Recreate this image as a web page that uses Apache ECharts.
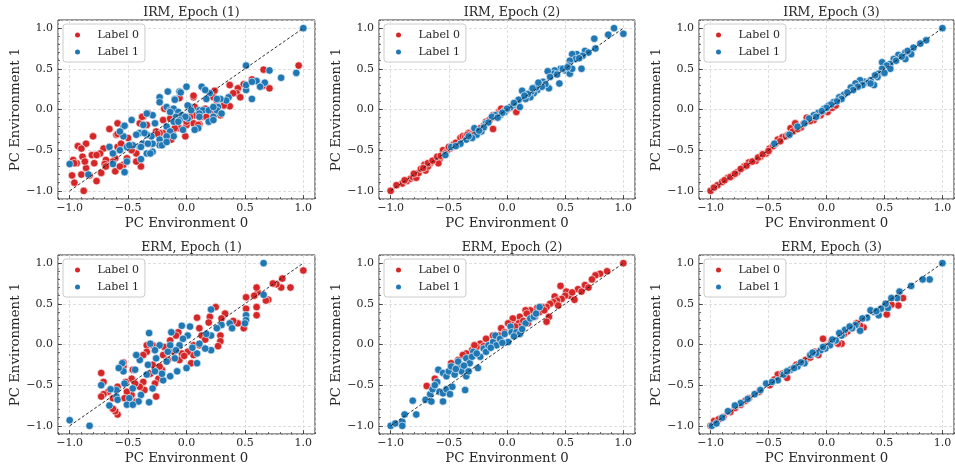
<!DOCTYPE html>
<html>
<head>
<meta charset="utf-8">
<script src="https://cdn.jsdelivr.net/npm/echarts@6/dist/echarts.min.js"></script>
<style>
html,body{margin:0;padding:0;background:#fff;}
#chart{width:955px;height:467px;}
</style>
</head>
<body>
<div id="chart"></div>
<script>
// ---------- data ----------
const panelTitles = ['IRM, Epoch (1)', 'IRM, Epoch (2)', 'IRM, Epoch (3)', 'ERM, Epoch (1)', 'ERM, Epoch (2)', 'ERM, Epoch (3)'];
const seriesNames = ['Label 0', 'Label 1'];
const xAxisName = 'PC Environment 0';
const yAxisName = 'PC Environment 1';
const axisRange = [-1.1, 1.1];
const diagX = [-1, 1];
const diagY = [-1, 1];

const irm1Label0 = [[0.96,0.54],[0.66,0.49],[0.71,0.26],[0.65,0.29],[0.56,0.37],[0.49,0.31],[0.44,0.26],[0.43,0.2],[0.46,0.15],[0.37,0.3],[0.37,0.04],[0.24,0.23],[0.23,0.15],[0.29,-0.07],[0.23,-0.05],[0.16,0.01],[0.11,-0.18],[0.14,-0.09],[0.06,0.15],[0.06,-0.17],[0.07,-0.07],[-0.06,0.14],[-0.01,-0.33],[-0.06,-0.23],[0,-0.19],[-0.13,-0.37],[-0.11,-0.25],[-0.19,0.01],[-0.2,-0.13],[-0.2,-0.29],[-0.26,-0.27],[-0.34,-0.19],[-0.37,-0.09],[-0.33,-0.05],[-0.4,-0.17],[-0.43,-0.54],[-0.39,-0.7],[-0.43,-0.64],[-0.51,-0.6],[-0.54,-0.68],[-0.59,-0.17],[-0.6,-0.31],[-0.59,-0.46],[-0.61,-0.6],[-0.63,-0.64],[-0.61,-0.76],[-0.66,-0.24],[-0.66,-0.46],[-0.69,-0.62],[-0.7,-0.67],[-0.69,-0.7],[-0.71,-0.48],[-0.74,-0.54],[-0.77,-0.88],[-0.79,-0.66],[-0.8,-0.33],[-0.81,-0.56],[-0.83,-0.81],[-0.86,-0.42],[-0.86,-0.72],[-0.89,-0.58],[-0.88,-1.0],[-0.94,-0.66],[-0.93,-0.45],[-0.97,-0.62],[-0.96,-0.9],[-0.98,-0.81],[-0.9,-0.8],[-0.73,-0.78],[-0.9,-0.48],[-0.59,-0.3],[-0.56,-0.42],[-0.47,-0.5],[-0.38,-0.09],[-0.23,-0.29],[-0.14,-0.11],[-0.1,-0.23],[0.03,-0.09],[0.06,0.17],[0.07,0.03],[0.1,-0.19],[0.17,-0.09],[0.26,0.11],[-0.96,-0.66],[-0.87,-0.64],[-0.77,-0.56],[-0.57,-0.7],[-0.5,-0.35],[-0.3,-0.42],[-0.25,-0.3],[0.0,-0.15],[0.32,0.05],[0.4,0.2]];
const irm1Label1 = [[1,1],[0.94,0.45],[0.81,0.39],[0.71,0.48],[0.67,0.33],[0.6,0.35],[0.56,0.13],[0.51,0.54],[0.51,0.24],[0.51,0.3],[0.56,0.34],[0.63,0.28],[0.36,0.15],[0.34,0.11],[0.29,0.13],[0.27,0.03],[0.26,-0.01],[0.3,-0.05],[0.2,0.2],[0.17,0.13],[0.13,0.28],[0.11,-0.01],[0.14,-0.01],[0.19,-0.15],[0.23,-0.09],[0.1,-0.23],[0.07,-0.25],[0.01,-0.11],[0.03,0.03],[0,0.28],[-0.06,0.22],[-0.1,0.13],[-0.16,0.22],[-0.23,0.15],[-0.23,0.09],[-0.17,0.03],[-0.14,-0.01],[-0.11,0.01],[-0.07,-0.03],[-0.09,-0.09],[-0.04,-0.07],[-0.01,-0.09],[-0.06,-0.13],[-0.11,-0.15],[-0.17,-0.21],[-0.14,-0.27],[-0.11,-0.33],[-0.17,-0.33],[-0.23,-0.37],[-0.23,-0.44],[-0.29,-0.42],[-0.3,-0.33],[-0.29,-0.07],[-0.37,-0.19],[-0.4,-0.29],[-0.43,-0.31],[-0.34,-0.31],[-0.37,-0.42],[-0.4,-0.46],[-0.46,-0.44],[-0.51,-0.46],[-0.47,-0.13],[-0.54,-0.21],[-0.54,-0.33],[-0.57,-0.5],[-0.51,-0.64],[-0.53,-0.77],[-0.39,-0.61],[-0.34,-0.54],[-0.29,-0.52],[-0.63,-0.67],[-0.84,-0.8],[-1.0,-0.67],[0.11,-0.05],[-0.66,-0.46],[-0.63,-0.54],[-0.57,-0.27],[-0.53,-0.2],[-0.49,-0.44],[-0.39,-0.46],[-0.36,-0.29],[-0.34,-0.05],[-0.33,-0.42],[-0.31,-0.54],[-0.27,-0.17],[-0.21,-0.44],[-0.17,-0.4],[-0.14,-0.03],[-0.1,0.12],[-0.07,-0.15],[-0.03,-0.25],[0.01,0.05],[0.04,-0.01],[0.11,-0.09],[0.16,0.24],[0.19,-0.01],[0.23,0.03],[0.23,-0.13],[0.26,0.13],[-0.05,0.21]];

const irm2Label0 = [[-1,-1],[-0.9,-0.91],[-0.86,-0.88],[-0.83,-0.85],[-0.81,-0.83],[-0.78,-0.84],[-0.76,-0.78],[-0.71,-0.68],[-0.7,-0.75],[-0.66,-0.66],[-0.62,-0.62],[-0.58,-0.61],[-0.55,-0.5],[-0.59,-0.66],[-0.49,-0.48],[-0.43,-0.44],[-0.4,-0.35],[-0.38,-0.33],[-0.33,-0.29],[-0.26,-0.27],[-0.2,-0.2],[-0.18,-0.15],[-0.12,-0.24],[-0.12,-0.07],[-0.07,-0.03],[-0.05,0.01],[-0.02,-0.01],[0.08,-0.03],[0.1,0.04],[-0.68,-0.7],[-0.52,-0.52],[-0.95,-0.93],[-0.88,-0.87],[-0.74,-0.73],[-0.68,-0.66],[-0.64,-0.63],[-0.6,-0.58],[-0.57,-0.57],[-0.53,-0.54],[-0.46,-0.43],[-0.44,-0.41],[-0.36,-0.34],[-0.3,-0.3],[-0.28,-0.25],[-0.23,-0.23],[-0.15,-0.13],[-0.1,-0.09],[-0.08,-0.06],[0.0,0.0],[0.03,0.02],[-0.72,-0.72],[-0.8,-0.79],[-0.5,-0.46],[-0.34,-0.31]];
const irm2Label1 = [[1,0.93],[0.92,1],[0.87,0.92],[0.75,0.87],[0.76,0.75],[0.67,0.72],[0.6,0.68],[0.56,0.68],[0.59,0.62],[0.54,0.6],[0.53,0.54],[0.5,0.48],[0.46,0.5],[0.41,0.48],[0.4,0.44],[0.35,0.47],[0.37,0.4],[0.54,0.44],[0.56,0.5],[0.64,0.5],[0.45,0.32],[0.36,0.26],[0.31,0.34],[0.28,0.3],[0.26,0.24],[0.23,0.2],[0.2,0.15],[0.13,0.23],[0.16,0.13],[0.08,0.09],[0.11,0.03],[0.05,0.05],[0.03,0.03],[-0.02,-0.03],[-0.06,-0.07],[-0.1,-0.07],[-0.13,-0.09],[-0.18,-0.17],[-0.22,-0.27],[-0.28,-0.23],[-0.26,-0.31],[-0.3,-0.35],[-0.35,-0.37],[-0.4,-0.42],[-0.48,-0.46],[-0.53,-0.56],[0.7,0.7],[0.65,0.66],[0.48,0.5],[0.43,0.43],[0.33,0.31],[0.3,0.28],[0.25,0.27],[0.21,0.22],[0.18,0.19],[0.1,0.12],[0.06,0.08],[0.0,0.01],[-0.04,-0.04],[-0.08,-0.1],[-0.16,-0.16],[-0.2,-0.22],[-0.24,-0.26],[-0.33,-0.33],[-0.44,-0.45],[0.27,0.33],[0.22,0.26],[0.15,0.17],[0.52,0.52],[0.62,0.63]];

const irm3Label0 = [[-1,-1],[-0.94,-0.93],[-0.9,-0.89],[-0.85,-0.84],[-0.81,-0.81],[-0.77,-0.77],[-0.71,-0.7],[-0.67,-0.65],[-0.61,-0.63],[-0.57,-0.58],[-0.52,-0.54],[-0.49,-0.48],[-0.42,-0.37],[-0.38,-0.34],[-0.31,-0.23],[-0.27,-0.17],[-0.22,-0.22],[-0.17,-0.1],[-0.11,-0.13],[-0.05,-0.07],[0.01,-0.03],[0.01,0.02],[-0.97,-0.96],[-0.88,-0.87],[-0.83,-0.83],[-0.79,-0.79],[-0.74,-0.73],[-0.69,-0.69],[-0.64,-0.64],[-0.59,-0.59],[-0.55,-0.55],[-0.46,-0.45],[-0.44,-0.42],[-0.35,-0.33],[-0.33,-0.31],[-0.29,-0.27],[-0.25,-0.24],[-0.2,-0.18],[-0.14,-0.14],[-0.08,-0.08],[-0.03,-0.02],[0.05,0.02],[0.08,0.05],[-0.4,-0.39],[-0.5,-0.51]];
const irm3Label1 = [[1,1],[0.86,0.85],[0.81,0.81],[0.75,0.76],[0.73,0.68],[0.68,0.7],[0.62,0.67],[0.68,0.62],[0.58,0.62],[0.55,0.56],[0.48,0.58],[0.52,0.54],[0.55,0.5],[0.48,0.5],[0.45,0.44],[0.41,0.3],[0.38,0.36],[0.33,0.34],[0.29,0.36],[0.25,0.32],[0.21,0.27],[0.15,0.18],[0.11,0.15],[0.06,0.09],[0.02,0.05],[-0.02,0.01],[-0.07,-0.04],[-0.11,-0.07],[-0.15,-0.11],[-0.19,-0.17],[-0.25,-0.21],[-0.32,-0.31],[-0.45,-0.42],[0.44,0.4],[0.42,0.42],[0.36,0.33],[0.31,0.3],[0.27,0.28],[0.23,0.24],[0.18,0.21],[0.13,0.13],[0.09,0.1],[0.04,0.06],[0.0,0.02],[-0.04,-0.02],[-0.09,-0.09],[0.38,0.32],[0.5,0.45],[0.6,0.6],[0.65,0.65],[0.7,0.72]];

const erm1Label0 = [[1.0,0.91],[0.89,0.7],[0.82,0.81],[0.81,0.7],[0.77,0.74],[0.74,0.75],[0.7,0.55],[0.68,0.54],[0.61,0.64],[0.6,0.7],[0.58,0.6],[0.6,0.46],[0.6,0.36],[0.51,0.58],[0.51,0.44],[0.49,0.2],[0.44,0.26],[0.4,0.29],[0.33,0.38],[0.3,0.32],[0.29,0.11],[0.29,0.04],[0.27,-0.02],[0.25,0.46],[0.2,0.34],[0.19,0.27],[0.11,0.2],[0.09,0.33],[0.13,0.11],[0.11,-0.01],[0.06,-0.01],[0.06,-0.13],[0.04,-0.23],[0.01,-0.09],[-0.07,0.15],[-0.09,0.11],[-0.04,-0.11],[-0.06,-0.19],[-0.11,-0.09],[-0.14,0.05],[-0.19,-0.03],[-0.2,-0.13],[-0.21,-0.31],[-0.23,-0.27],[-0.24,-0.42],[-0.29,-0.25],[-0.29,-0.01],[-0.27,-0.48],[-0.26,-0.64],[-0.34,-0.01],[-0.34,-0.09],[-0.37,-0.13],[-0.37,-0.46],[-0.36,-0.56],[-0.4,-0.52],[-0.46,-0.31],[-0.47,-0.42],[-0.47,-0.62],[-0.43,-0.7],[-0.51,-0.58],[-0.53,-0.66],[-0.54,-0.27],[-0.54,-0.22],[-0.59,-0.52],[-0.59,-0.86],[-0.61,-0.82],[-0.63,-0.79],[-0.63,-0.66],[-0.67,-0.58],[-0.71,-0.61],[-0.73,-0.64],[-0.73,-0.35],[-0.71,-0.46],[-0.52,-0.46],[-0.44,-0.48],[-0.16,-0.19],[-0.02,-0.14],[0.16,0.06],[-0.31,-0.36]];
const erm1Label1 = [[0.66,1.0],[0.66,0.61],[0.51,0.36],[0.51,0.3],[0.5,0.26],[0.37,0.26],[0.39,0.2],[0.3,0.24],[0.26,0.2],[0.21,0.11],[0.17,0.13],[0.21,0.43],[0.21,-0.07],[0.16,-0.05],[0.11,0.01],[0.09,-0.11],[0.09,-0.23],[0.03,0.22],[0.01,0.11],[-0.04,0.23],[-0.03,0.07],[-0.06,-0.01],[-0.09,-0.07],[-0.1,-0.17],[0,-0.29],[-0.13,0.15],[-0.14,-0.01],[-0.16,-0.09],[-0.17,-0.21],[-0.14,-0.39],[-0.2,-0.44],[-0.23,-0.01],[-0.27,-0.07],[-0.26,-0.17],[-0.27,-0.33],[-0.29,-0.54],[-0.31,0.01],[-0.32,0.14],[-0.33,-0.25],[-0.34,-0.37],[-0.32,-0.71],[-0.39,-0.62],[-0.4,-0.19],[-0.43,-0.13],[-0.44,-0.31],[-0.46,-0.54],[-0.41,-0.7],[-0.49,-0.66],[-0.51,-0.74],[-0.46,-0.74],[-0.53,-0.48],[-0.54,-0.33],[-0.55,-0.23],[-0.58,-0.29],[-0.6,-0.56],[-0.6,-0.64],[-0.65,-0.55],[-0.66,-0.75],[-0.73,-0.5],[-0.83,-1.0],[-1.0,-0.93],[-0.59,-0.68],[-0.08,-0.33],[0.05,-0.04],[-0.21,-0.36]];

const erm2Label0 = [[1,1],[0.86,0.9],[0.8,0.87],[0.76,0.85],[0.67,0.73],[0.61,0.68],[0.54,0.6],[0.51,0.65],[0.5,0.6],[0.46,0.72],[0.47,0.56],[0.41,0.59],[0.43,0.54],[0.4,0.52],[0.37,0.5],[0.36,0.34],[0.34,0.46],[0.3,0.46],[0.28,0.4],[0.26,0.45],[0.23,0.4],[0.2,0.42],[0.16,0.42],[0.17,0.38],[0.11,0.34],[0.1,0.26],[0.11,0.22],[0.05,0.32],[0.04,0.24],[0.01,0.26],[-0.05,0.2],[-0.02,0.15],[-0.07,0.11],[-0.12,0.11],[-0.18,0.07],[-0.23,0.01],[-0.26,-0.03],[-0.3,-0.07],[-0.35,-0.11],[-0.38,-0.13],[-0.48,-0.23],[-0.62,-0.42],[-0.69,-0.51],[0.34,0.28],[0.73,0.8],[0.64,0.65],[0.56,0.64],[0.44,0.48],[0.32,0.42],[0.24,0.34],[0.14,0.29],[0.07,0.22],[-0.1,0.04],[-0.2,-0.02],[-0.28,-0.01],[-0.33,-0.17],[-0.42,-0.19],[0.7,0.7],[0.58,0.55],[0.18,0.26]];
const erm2Label1 = [[-1,-1],[-0.96,-0.97],[-0.9,-0.95],[-0.9,-1.0],[-0.88,-0.86],[-0.78,-0.86],[-0.81,-0.69],[-0.7,-0.68],[-0.66,-0.61],[-0.64,-0.55],[-0.6,-0.46],[-0.65,-0.7],[-0.55,-0.7],[-0.58,-0.58],[-0.55,-0.6],[-0.52,-0.55],[-0.49,-0.61],[-0.47,-0.52],[-0.59,-0.31],[-0.55,-0.35],[-0.52,-0.39],[-0.5,-0.33],[-0.48,-0.27],[-0.43,-0.29],[-0.45,-0.37],[-0.4,-0.25],[-0.39,-0.33],[-0.35,-0.39],[-0.36,-0.56],[-0.35,-0.17],[-0.32,-0.23],[-0.29,-0.09],[-0.25,-0.29],[-0.23,-0.15],[-0.2,-0.05],[-0.18,-0.09],[-0.16,-0.01],[-0.12,0.03],[-0.1,0.11],[-0.09,-0.01],[-0.06,0.07],[-0.02,0.13],[0.01,0.03],[0.03,0.22],[0.04,0.15],[0.08,0.15],[0.11,0.13],[0.16,0.26],[0.2,0.32],[0.23,0.34],[0.25,0.38],[0.28,0.46],[-0.42,-0.21],[-0.37,-0.26],[-0.3,-0.15],[-0.26,-0.11],[-0.14,-0.04],[-0.04,0.02],[0.06,0.1],[0.13,0.19],[-0.62,-0.5],[-0.44,-0.3],[-0.33,-0.33]];

const erm3Label0 = [[0.66,0.57],[0.62,0.48],[0.56,0.49],[0.52,0.37],[0.51,0.5],[0.32,0.21],[0.29,0.23],[0.13,0.01],[0.1,0.01],[-0.03,0.07],[-0.07,-0.13],[-0.34,-0.41],[-0.42,-0.37],[-0.67,-0.66],[-0.89,-0.89],[-0.97,-0.94],[-1,-1],[-0.79,-0.78],[-0.7,-0.69],[-0.58,-0.58],[-0.49,-0.5],[-0.26,-0.25],[-0.18,-0.19],[-0.1,-0.09],[0.04,0.03],[0.18,0.16],[0.26,0.26],[-0.93,-0.92],[-0.83,-0.83],[-0.74,-0.74],[-0.62,-0.61],[-0.3,-0.3],[-0.14,-0.16],[0.0,-0.02],[0.07,0.04],[0.15,0.13],[0.22,0.2],[-0.45,-0.43],[-0.38,-0.36]];
const erm3Label1 = [[1,1],[0.89,0.8],[0.83,0.8],[0.73,0.72],[0.63,0.65],[0.61,0.57],[0.53,0.45],[0.51,0.5],[0.45,0.36],[0.41,0.4],[0.38,0.42],[0.35,0.33],[0.31,0.32],[0.29,0.17],[0.25,0.24],[0.22,0.2],[0.16,0.18],[0.13,0.11],[0.08,0.05],[0.03,-0.01],[-0.01,-0.05],[-0.05,-0.07],[-0.09,-0.11],[-0.14,-0.13],[-0.19,-0.23],[-0.25,-0.27],[-0.31,-0.31],[-0.37,-0.37],[-0.42,-0.44],[-0.52,-0.48],[-0.62,-0.61],[-0.74,-0.72],[-0.79,-0.75],[-0.85,-0.82],[-0.99,-1.0],[0.47,0.44],[0.43,0.41],[0.2,0.22],[0.11,0.14],[0.05,0.06],[-0.03,-0.03],[-0.12,-0.1],[-0.22,-0.22],[-0.28,-0.29],[-0.34,-0.33],[-0.47,-0.46],[-0.57,-0.56],[-0.68,-0.67],[-0.9,-0.9],[-0.95,-0.97],[0.56,0.57]];

const panelLabel0 = [irm1Label0, irm2Label0, irm3Label0, erm1Label0, erm2Label0, erm3Label0];
const panelLabel1 = [irm1Label1, irm2Label1, irm3Label1, erm1Label1, erm2Label1, erm3Label1];

// ---------- layout ----------
const colLeft = [58, 379, 699];
const colWidth = [257, 256, 255];
const rowTop = [20, 255];
const plotH = 179;
const FONT = '"DejaVu Serif", serif';
const RED = '#d62728', BLUE = '#1f77b4';
const TXT = '#262626';

const fmt = v => (v < 0 ? '\u2212' : '') + Math.abs(v).toFixed(1);

const grid = [], xAxis = [], yAxis = [], series = [], legend = [], title = [];
for (let i = 0; i < 6; i++) {
  const r = Math.floor(i / 3), c = i % 3;
  const left = colLeft[c], top = rowTop[r], w = colWidth[c];
  grid.push({left: left, top: top, width: w, height: plotH, show: true, borderColor: '#333333', borderWidth: 1, backgroundColor: 'transparent', containLabel: false});
  title.push({text: panelTitles[i], left: left + w / 2, top: top - 19, textAlign: 'center',
    textStyle: {fontFamily: FONT, fontSize: 12.5, fontWeight: 'normal', color: TXT}});
  // main axes
  xAxis.push({type: 'value', gridIndex: i, position: 'bottom', min: axisRange[0], max: axisRange[1],
    name: xAxisName, nameLocation: 'middle', nameGap: 18,
    nameTextStyle: {fontFamily: FONT, fontSize: 13.3, color: TXT},
    axisLine: {show: false, onZero: false}, axisTick: {show: true, inside: true, length: 4, lineStyle: {color: '#333', width: 0.8}},
    axisLabel: {formatter: fmt, showMinLabel: false, showMaxLabel: false, margin: 4, fontFamily: FONT, fontSize: 11, color: TXT},
    splitLine: {show: true, lineStyle: {color: '#d6d6d6', type: [3, 2], width: 0.8}}});
  xAxis.push({type: 'value', gridIndex: i, position: 'bottom', min: axisRange[0], max: axisRange[1], interval: 0.1,
    axisLine: {show: false, onZero: false}, axisLabel: {show: false}, splitLine: {show: false},
    axisTick: {show: true, inside: true, length: 2, lineStyle: {color: '#333', width: 0.7}}});
  yAxis.push({type: 'value', gridIndex: i, position: 'left', min: axisRange[0], max: axisRange[1],
    name: yAxisName, nameLocation: 'middle', nameGap: 31, nameRotate: 90,
    nameTextStyle: {fontFamily: FONT, fontSize: 13.3, color: TXT},
    axisLine: {show: false, onZero: false}, axisTick: {show: true, inside: true, length: 4, lineStyle: {color: '#333', width: 0.8}},
    axisLabel: {formatter: fmt, showMinLabel: false, showMaxLabel: false, margin: 5, fontFamily: FONT, fontSize: 11, color: TXT},
    splitLine: {show: true, lineStyle: {color: '#d6d6d6', type: [3, 2], width: 0.8}}});
  yAxis.push({type: 'value', gridIndex: i, position: 'left', min: axisRange[0], max: axisRange[1], interval: 0.1,
    axisLine: {show: false, onZero: false}, axisLabel: {show: false}, splitLine: {show: false},
    axisTick: {show: true, inside: true, length: 2, lineStyle: {color: '#333', width: 0.7}}});

  const common = {type: 'scatter', xAxisIndex: 2 * i, yAxisIndex: 2 * i, symbolSize: 7.5, silent: true};
  series.push(Object.assign({}, common, {name: seriesNames[0], data: panelLabel0[i],
    itemStyle: {color: RED, borderColor: '#fff', borderWidth: 0.6, opacity: 1}, z: 2}));
  series.push(Object.assign({}, common, {name: seriesNames[1], data: panelLabel1[i],
    itemStyle: {color: BLUE, borderColor: '#fff', borderWidth: 0.6, opacity: 1}, z: 3}));
  series.push({type: 'line', xAxisIndex: 2 * i, yAxisIndex: 2 * i, data: diagX.map((x, k) => [x, diagY[k]]),
    symbol: 'none', silent: true, z: 4, lineStyle: {color: '#1a1a1a', width: 0.9, type: [3, 2]}});

  legend.push({left: left + 5, top: top + 4, orient: 'vertical', data: seriesNames,
    icon: 'circle', itemWidth: 30, itemHeight: 5, itemGap: 3,
    padding: [4, 6, 3, 12], borderColor: '#cccccc', borderWidth: 1, borderRadius: 3,
    backgroundColor: 'rgba(255,255,255,0.8)', selectedMode: false,
    itemStyle: {borderWidth: 0},
    textStyle: {fontFamily: FONT, fontSize: 11, color: TXT, lineHeight: 14}});
}

const chart = echarts.init(document.getElementById('chart'), null, {renderer: 'canvas'});
chart.setOption({animation: false, backgroundColor: '#fff', title, grid, xAxis, yAxis, series, legend});
</script>
</body>
</html>
